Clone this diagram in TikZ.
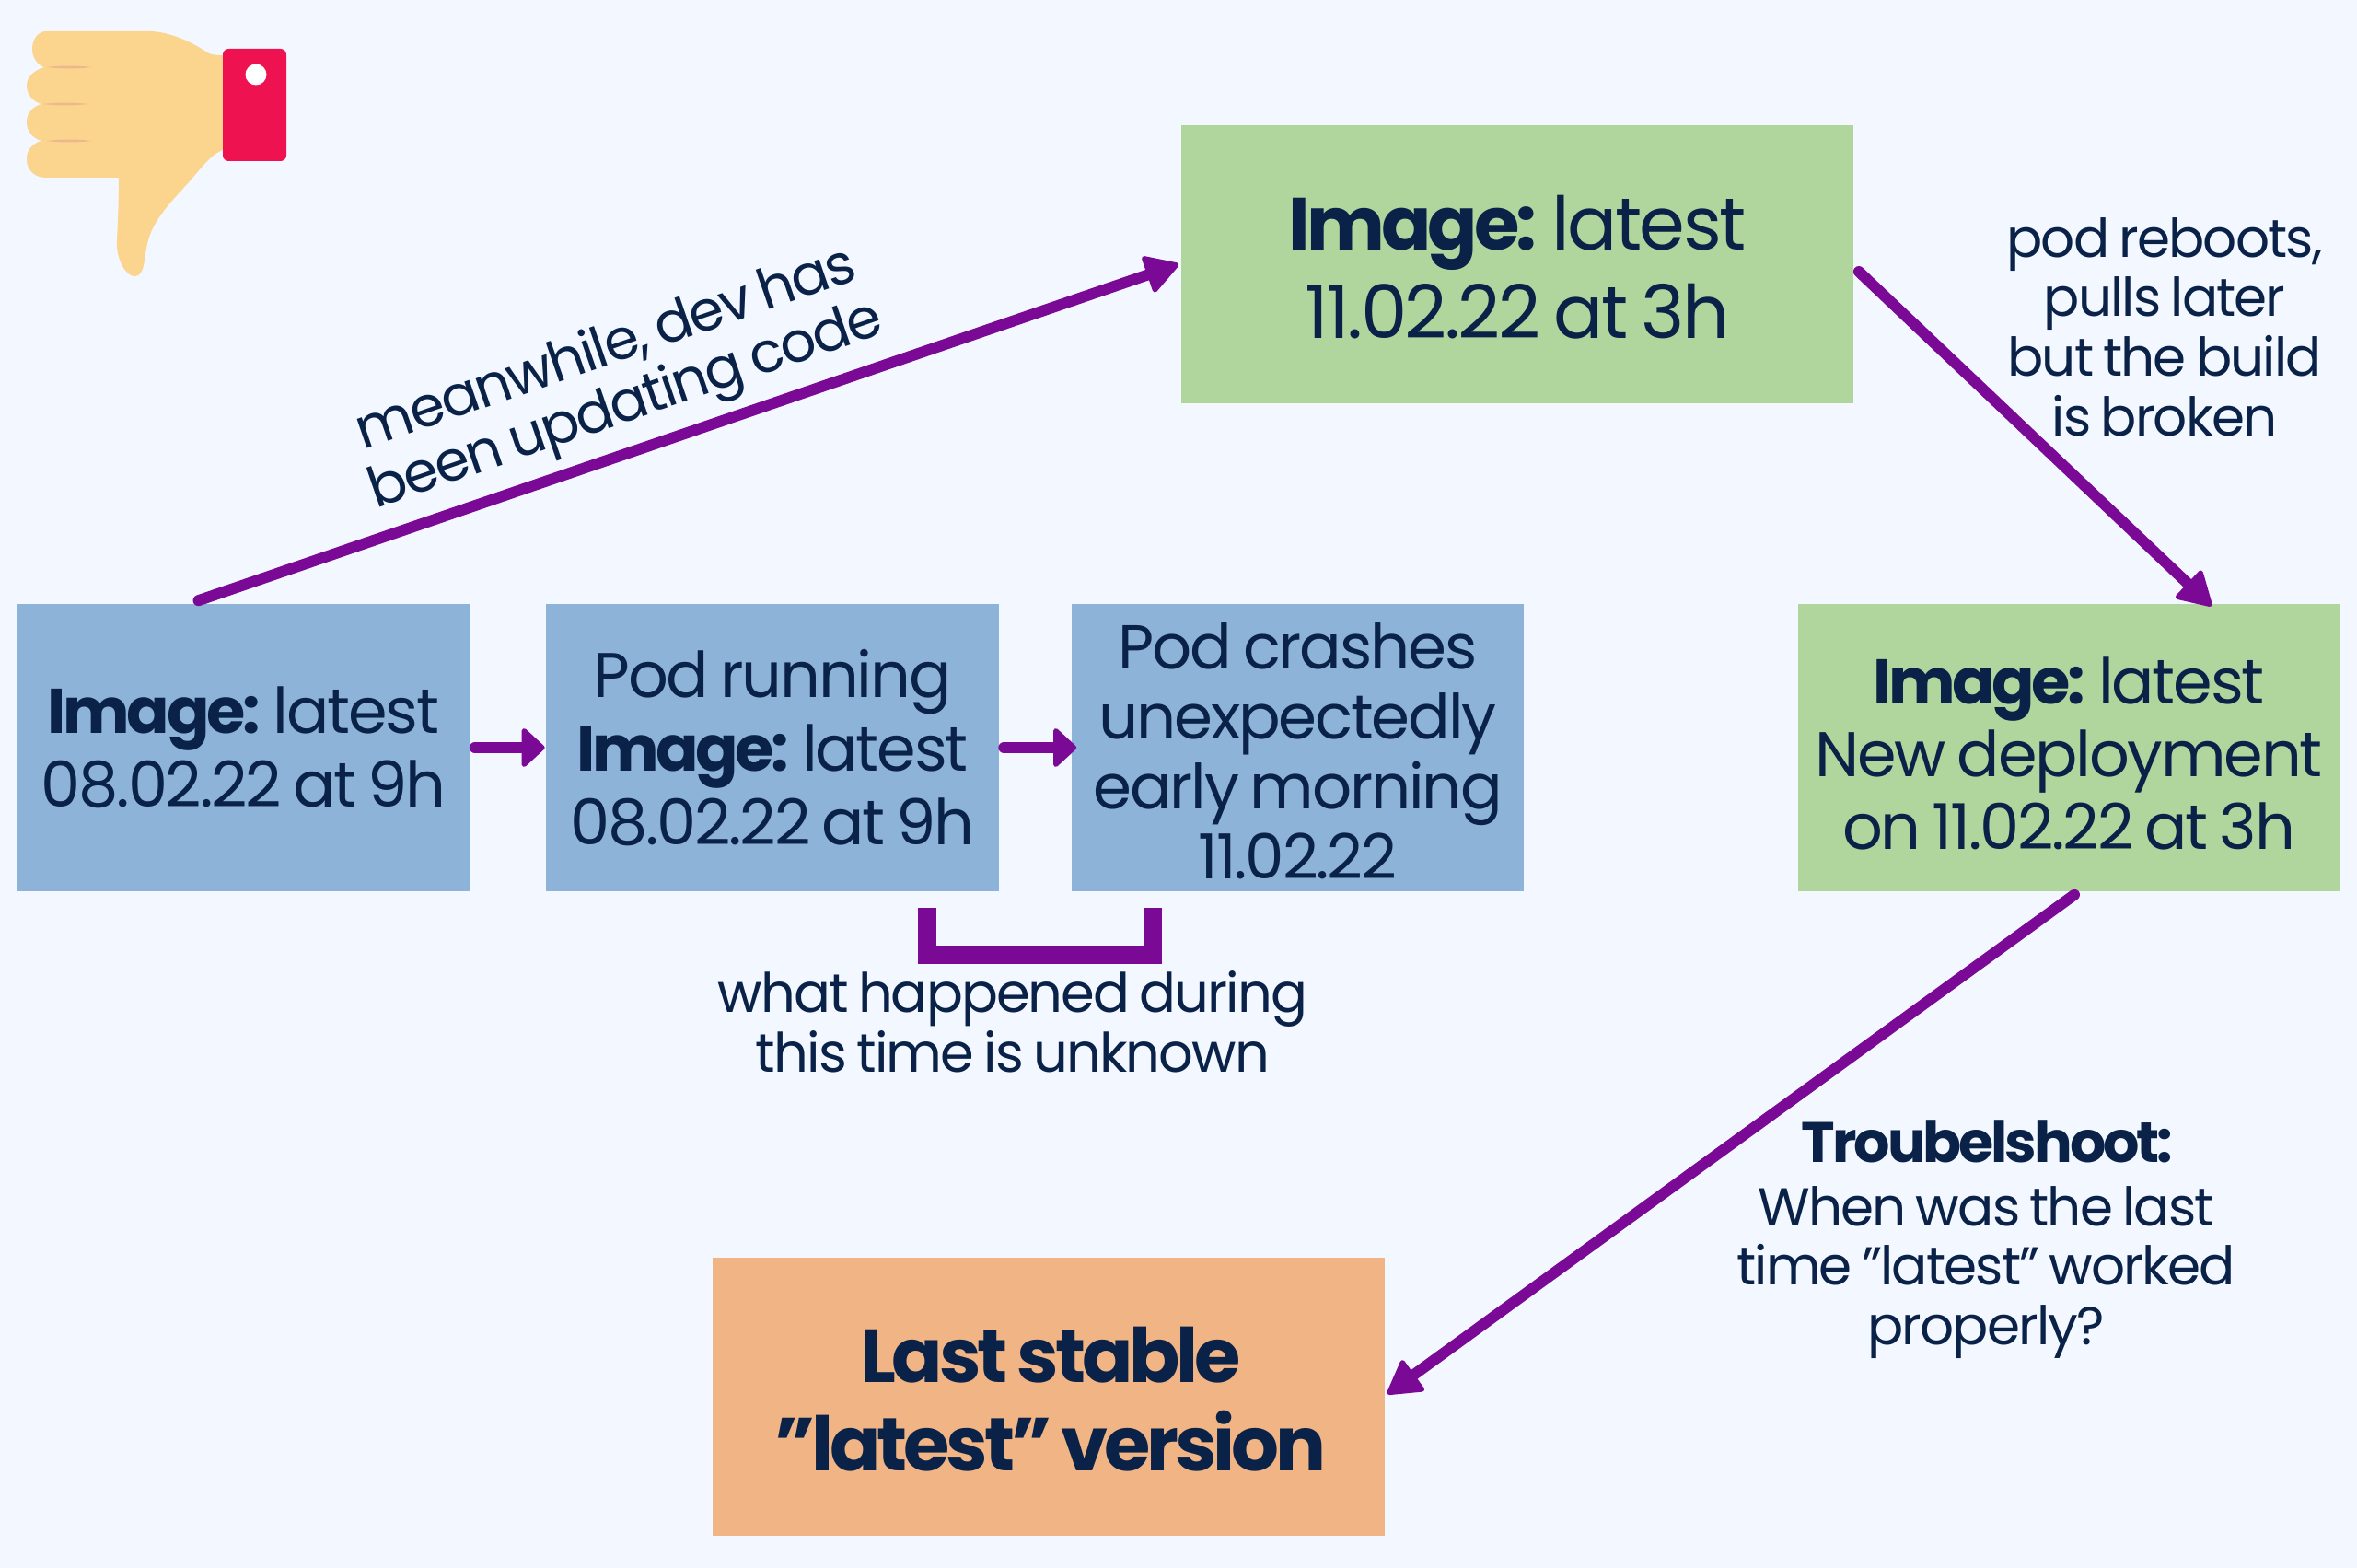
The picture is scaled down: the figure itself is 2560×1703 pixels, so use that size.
\documentclass[tikz,border=0pt]{standalone}
\usepackage{fontspec}
\setmainfont{Poppins}[LetterSpace=-3.2,WordSpace=0.75,BoldFeatures={LetterSpace=-5}]
\usetikzlibrary{arrows.meta,positioning,calc}
\definecolor{pagebg}{HTML}{F3F7FF}
\definecolor{inkblue}{HTML}{0A2248}
\definecolor{arrowpurple}{HTML}{7A0A96}
\definecolor{boxblue}{HTML}{8DB3D9}
\definecolor{boxgreen}{HTML}{B0D69E}
\definecolor{boxorange}{HTML}{F0B485}
\definecolor{skin}{HTML}{FBD48E}
\definecolor{crease}{HTML}{EDB98A}
\definecolor{cuff}{HTML}{EE1250}
\tikzset{every picture/.style={line cap=round, line join=round}}
\tikzset{box/.style={rectangle, inner sep=0pt, align=center, text=inkblue}}
\tikzset{bigbox/.style={box, minimum width=7.30cm, minimum height=3.02cm, text height=46pt, font=\fontsize{22.8}{27.3}\selectfont}}
\tikzset{bluebox/.style={box, fill=boxblue, minimum width=4.91cm, minimum height=3.12cm, font=\fontsize{19.5}{22.8}\selectfont}}
\tikzset{arrow/.style={draw=arrowpurple, line width=3.4pt, -{Triangle[round,length=11pt,width=12.5pt,line width=1.5pt]}}}
\tikzset{shortarrow/.style={draw=arrowpurple, line width=3.4pt, -{Triangle[round,length=7.5pt,width=13.5pt,line width=1.5pt]}}}
\tikzset{small/.style={text=inkblue, align=center, inner sep=0pt, font=\fontsize{16.5}{18.4}\selectfont}}
\begin{document}
\begin{tikzpicture}[x=0.01cm,y=-0.01cm]
  \fill[pagebg] (0,0) rectangle (2560,1703);

  % Thumb
  \fill[skin] (50,34) -- (165,34) .. controls (190,36) and (212,48) .. (225,57)
    .. controls (230,60) and (236,60) .. (245,60) -- (245,162)
    .. controls (232,165) and (222,178) .. (205,198) .. controls (185,220) and (165,240) .. (160,265)
    .. controls (156,280) and (158,300) .. (146,300) .. controls (136,300) and (126,280) .. (127,262)
    .. controls (128,240) and (129,220) .. (129,193) -- (50,193)
    .. controls (38,193) and (29,185) .. (29,173) .. controls (29,163) and (35,156) .. (45,153)
    .. controls (35,150) and (29,142) .. (29,133) .. controls (29,123) and (35,116) .. (45,113)
    .. controls (35,110) and (29,102) .. (29,93) .. controls (29,83) and (38,76) .. (48,73)
    .. controls (40,70) and (35,62) .. (35,53) .. controls (35,42) and (42,34) .. (50,34) -- cycle;
  \foreach \ya/\xa/\xb in {73/50/100,113/46/96,153/50/100}
    \fill[crease] (\xa,\ya) .. controls (\xa+20,\ya-2) and (\xb-20,\ya-2) .. (\xb,\ya)
      .. controls (\xb-20,\ya+2) and (\xa+20,\ya+2) .. (\xa,\ya) -- cycle;
  \fill[cuff, rounded corners=1.8pt] (242,53) rectangle (311,175);
  \fill[white] (278,81) circle (11.5);

  % Boxes
  \node[bluebox] (first) at (264.5,812) {\textbf{Image:} latest\\08.02.22 at 9h};
  \node[bluebox] (running) at (839,812) {Pod running\\\textbf{Image:} latest\\08.02.22 at 9h};
  \node[bluebox,font=\fontsize{19.2}{21.6}\selectfont,text height=81pt] (crash) at (1409.5,812) {Pod crashes\\unexpectedly\\early morning\\11.02.22};
  \node[bigbox,fill=boxgreen] (later) at (1648,287) {\textbf{Image:} latest\\11.02.22 at 3h};
  \node[bluebox,fill=boxgreen,minimum width=5.88cm,font=\fontsize{19.5}{22.4}\selectfont,text height=63pt] (deploy) at (2247,812) {\textbf{Image:} latest\\New deployment\\on 11.02.22 at 3h};
  \node[bigbox,fill=boxorange,font=\fontsize{23.2}{27.3}\selectfont] (stable) at (1139,1517) {\textbf{Last stable}\\\textbf{"latest" version}};

  % Arrows
  \draw[arrow] ($(first.north)+(-49,-3)$) -- ($(later.west)+(-2,0)$);
  \draw[arrow] ($(later.east)+(5,8)$) -- ($(deploy.north)+(155,3)$);
  \draw[arrow] ($(deploy.south)+(6,3)$) -- ($(stable.east)+(2,-3)$);
  \draw[shortarrow] ($(first.east)+(5,0)$) -- ($(running.west)+(-1,0)$);
  \draw[shortarrow] ($(running.east)+(5,0)$) -- ($(crash.west)+(6,0)$);

  % Bracket
  \coordinate (gapl) at (1007,986);
  \coordinate (gapr) at (1252,986);
  \draw[draw=arrowpurple, line width=5.7pt, line cap=butt, line join=miter] (gapl) -- ++(0,51) -| (gapr);

  % Labels
  \node[small,rotate=19,font=\fontsize{17.3}{18.4}\selectfont] (devnote) at (670,412) {meanwhile, dev has\\been updating code};
  \node[small] (rebootnote) at (2351,355) {pod reboots,\\pulls later\\but the build\\is broken};
  \node[small,font=\fontsize{16.8}{18.4}\selectfont] (gapnote) at (1100,1110) {what happened during\\this time is unknown};
  \node[small] (shootnote) at (2157,1346) {{\fontsize{17.6}{18.4}\selectfont\textbf{Troubelshoot:}}\\[1.2pt]When was the last\\time "latest" worked\\properly?};
\end{tikzpicture}
\end{document}
